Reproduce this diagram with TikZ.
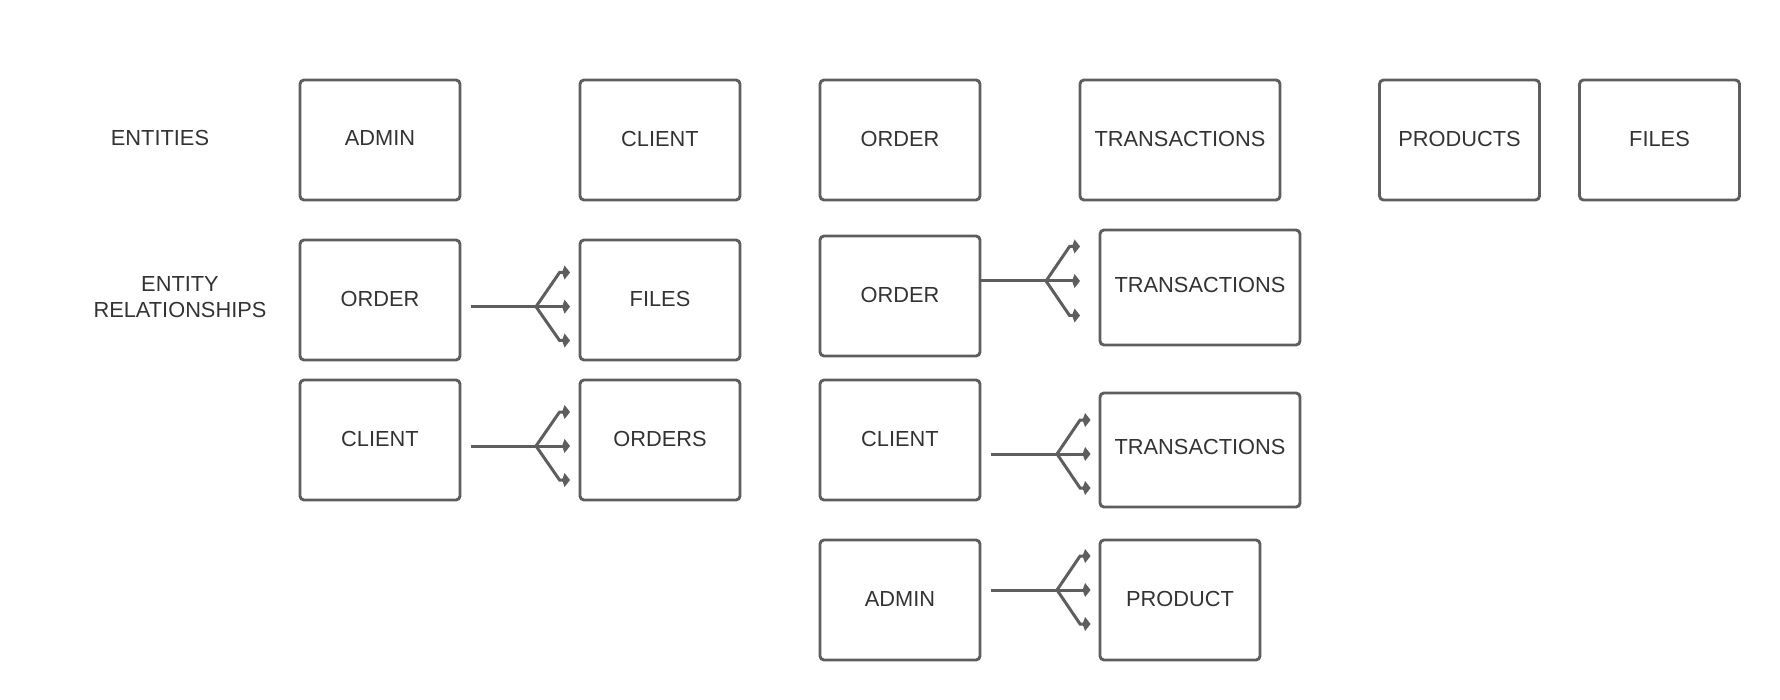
\documentclass[tikz,border=0pt]{standalone}
\usepackage{fontspec}
\setmainfont{Liberation Sans}
\usetikzlibrary{arrows.meta}
\definecolor{edgec}{HTML}{5E5E5E}
\definecolor{txtc}{HTML}{333333}
\begin{document}
\begin{tikzpicture}[x=1pt,y=-1pt,
  entbox/.style={draw=edgec, line width=2.9pt, rounded corners=4pt, text=txtc,
    font=\fontsize{21.8}{26}\selectfont, minimum width=160pt, minimum height=120pt, inner sep=0pt, text depth=3pt},
  lab/.style={text=txtc, font=\fontsize{21.8}{25.5}\selectfont, align=center, inner sep=0pt},
  conn/.style={draw=edgec, line width=3pt},
  crow/.style={conn, -{Kite[length=8pt,width=14pt,inset=2.5pt]}}]
\useasboundingbox (0,0) rectangle (1780,700);

% labels
\node[lab] (lEnt) at (160,138) {ENTITIES};
\node[lab] (lRel) at (180,297) {ENTITY\\RELATIONSHIPS};

% entities row
\node[entbox] (eAdmin) at (380,140) {ADMIN};
\node[entbox] (eClient) at (660,140) {CLIENT};
\node[entbox] (eOrder) at (900,140) {ORDER};
\node[entbox, minimum width=200pt] (eTrans) at (1180,140) {TRANSACTIONS};
\node[entbox] (eProducts) at (1459.5,140) {PRODUCTS};
\node[entbox] (eFiles) at (1659.5,140) {FILES};

% relationships left
\node[entbox] (rOrderA) at (380,300) {ORDER};
\node[entbox] (rFiles) at (660,300) {FILES};
\node[entbox] (rClientA) at (380,440) {CLIENT};
\node[entbox] (rOrders) at (660,440) {ORDERS};

% relationships right
\node[entbox] (rOrderB) at (900,296) {ORDER};
\node[entbox, minimum width=200pt, minimum height=115pt, text depth=6pt] (rTransA) at (1200,287.5) {TRANSACTIONS};
\node[entbox] (rClientB) at (900,440) {CLIENT};
\node[entbox, minimum width=200pt, minimum height=114pt, text depth=6pt] (rTransB) at (1200,450) {TRANSACTIONS};
\node[entbox] (rAdmin) at (900,600) {ADMIN};
\node[entbox] (rProduct) at (1180,600) {PRODUCT};

% crow's foot connectors
% ORDER -> FILES
\coordinate (b1) at (536,306.7);
\draw[conn] ([xshift=10pt]rOrderA.east |- b1) -- (b1);
\draw[crow] (b1) -- ([xshift=-19pt]rFiles.west |- 0,272.5) -- ([xshift=-8.5pt]rFiles.west |- 0,272.5);
\draw[crow] (b1) -- ([xshift=-8.5pt]rFiles.west |- b1);
\draw[crow] (b1) -- ([xshift=-19pt]rFiles.west |- 0,340.5) -- ([xshift=-8.5pt]rFiles.west |- 0,340.5);

% CLIENT -> ORDERS
\coordinate (b2) at (536,446);
\draw[conn] ([xshift=10pt]rClientA.east |- b2) -- (b2);
\draw[crow] (b2) -- ([xshift=-19pt]rOrders.west |- 0,412) -- ([xshift=-8.5pt]rOrders.west |- 0,412);
\draw[crow] (b2) -- ([xshift=-8.5pt]rOrders.west |- b2);
\draw[crow] (b2) -- ([xshift=-19pt]rOrders.west |- 0,480) -- ([xshift=-8.5pt]rOrders.west |- 0,480);

% ORDER -> TRANSACTIONS
\coordinate (b3) at (1046,281);
\draw[conn] (rOrderB.east |- b3) -- (b3);
\draw[crow] (b3) -- ([xshift=-29pt]rTransA.west |- 0,246.5) -- ([xshift=-18.5pt]rTransA.west |- 0,246.5);
\draw[crow] (b3) -- ([xshift=-18.5pt]rTransA.west |- b3);
\draw[crow] (b3) -- ([xshift=-29pt]rTransA.west |- 0,315.5) -- ([xshift=-18.5pt]rTransA.west |- 0,315.5);

% CLIENT -> TRANSACTIONS
\coordinate (b4) at (1057,454);
\draw[conn] ([xshift=10pt]rClientB.east |- b4) -- (b4);
\draw[crow] (b4) -- ([xshift=-18.5pt]rTransB.west |- 0,420) -- ([xshift=-8pt]rTransB.west |- 0,420);
\draw[crow] (b4) -- ([xshift=-8pt]rTransB.west |- b4);
\draw[crow] (b4) -- ([xshift=-18.5pt]rTransB.west |- 0,488) -- ([xshift=-8pt]rTransB.west |- 0,488);

% ADMIN -> PRODUCT
\coordinate (b5) at (1057,590);
\draw[conn] ([xshift=10pt]rAdmin.east |- b5) -- (b5);
\draw[crow] (b5) -- ([xshift=-18.5pt]rProduct.west |- 0,556) -- ([xshift=-8pt]rProduct.west |- 0,556);
\draw[crow] (b5) -- ([xshift=-8pt]rProduct.west |- b5);
\draw[crow] (b5) -- ([xshift=-18.5pt]rProduct.west |- 0,624) -- ([xshift=-8pt]rProduct.west |- 0,624);
\end{tikzpicture}
\end{document}
